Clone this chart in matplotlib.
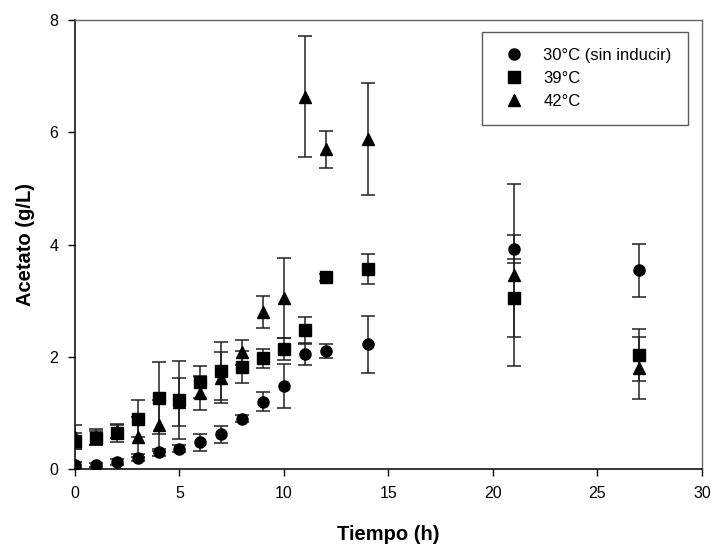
import matplotlib
matplotlib.use("Agg")
import matplotlib.pyplot as plt
import numpy as np

plt.rcParams['font.family'] = ['Liberation Sans', 'DejaVu Sans']

tiempo = [0, 1, 2, 3, 4, 5, 6, 7, 8, 9, 10, 11, 12, 14, 21, 27]

c30 = [0.07, 0.07, 0.13, 0.2, 0.3, 0.36, 0.48, 0.62, 0.9, 1.2, 1.48, 2.05, 2.1, 2.22, 3.93, 3.54]
c30_err = [0.05, 0.04, 0.05, 0.06, 0.06, 0.06, 0.15, 0.15, 0.07, 0.17, 0.4, 0.2, 0.12, 0.5, 0.25, 0.47]

c39 = [0.5, 0.55, 0.64, 0.9, 1.26, 1.23, 1.55, 1.75, 1.82, 1.97, 2.14, 2.47, 3.42, 3.56, 3.05, 2.03]
c39_err = [0.14, 0.13, 0.15, 0.33, 0.64, 0.7, 0.28, 0.52, 0.29, 0.17, 0.19, 0.24, 0.06, 0.27, 0.69, 0.47]

c42 = [0.57, 0.57, 0.68, 0.57, 0.78, 1.2, 1.35, 1.63, 2.08, 2.8, 3.05, 6.64, 5.7, 5.88, 3.46, 1.8]
c42_err = [0.21, 0.15, 0.12, 0.35, 0.45, 0.43, 0.3, 0.45, 0.22, 0.28, 0.72, 1.07, 0.33, 1.0, 1.62, 0.55]

labels = ['30°C (sin inducir)', '39°C', '42°C']

fig = plt.figure(figsize=(7.14, 5.46), dpi=100)
ax = fig.add_axes([0.105, 0.141, 0.878, 0.822])

series = [(c30, c30_err, 'o', labels[0]),
          (c39, c39_err, 's', labels[1]),
          (c42, c42_err, '^', labels[2])]
for y, e, m, lab in series:
    ax.errorbar(tiempo, y, yerr=e, fmt=m, color='black', ms=8,
                ecolor='#222222', elinewidth=1.1, capsize=4.8, capthick=1.1,
                label=lab, zorder=3)

ax.set_xlim(0, 30)
ax.set_ylim(0, 8)
ax.set_xticks([0, 5, 10, 15, 20, 25, 30])
ax.set_yticks([0, 2, 4, 6, 8])
ax.tick_params(direction='out', length=5, width=1, labelsize=11.5)
ax.tick_params(axis='x', pad=7)
ax.tick_params(axis='y', pad=7)
ax.set_xlabel('Tiempo (h)', fontsize=14.5, fontweight='bold', labelpad=17.5)
ax.set_ylabel('Acetato (g/L)', fontsize=14.5, fontweight='bold', labelpad=10.5)
for s in ['left', 'bottom']:
    ax.spines[s].set_color('black')
    ax.spines[s].set_linewidth(1.1)
for s in ['top', 'right']:
    ax.spines[s].set_color('#666666')
    ax.spines[s].set_linewidth(1.0)

handles, labs = ax.get_legend_handles_labels()
handles = [h[0] for h in handles]
leg = ax.legend(handles, labs, loc='upper left', bbox_to_anchor=(0.649, 0.973),
                fontsize=12, frameon=True, fancybox=False, edgecolor='#333333',
                handlelength=2.0, handletextpad=0.75, borderpad=0.95, labelspacing=0.48,
                borderaxespad=0)
leg.get_frame().set_linewidth(1.0)

fig.savefig('out.png', dpi=100)
